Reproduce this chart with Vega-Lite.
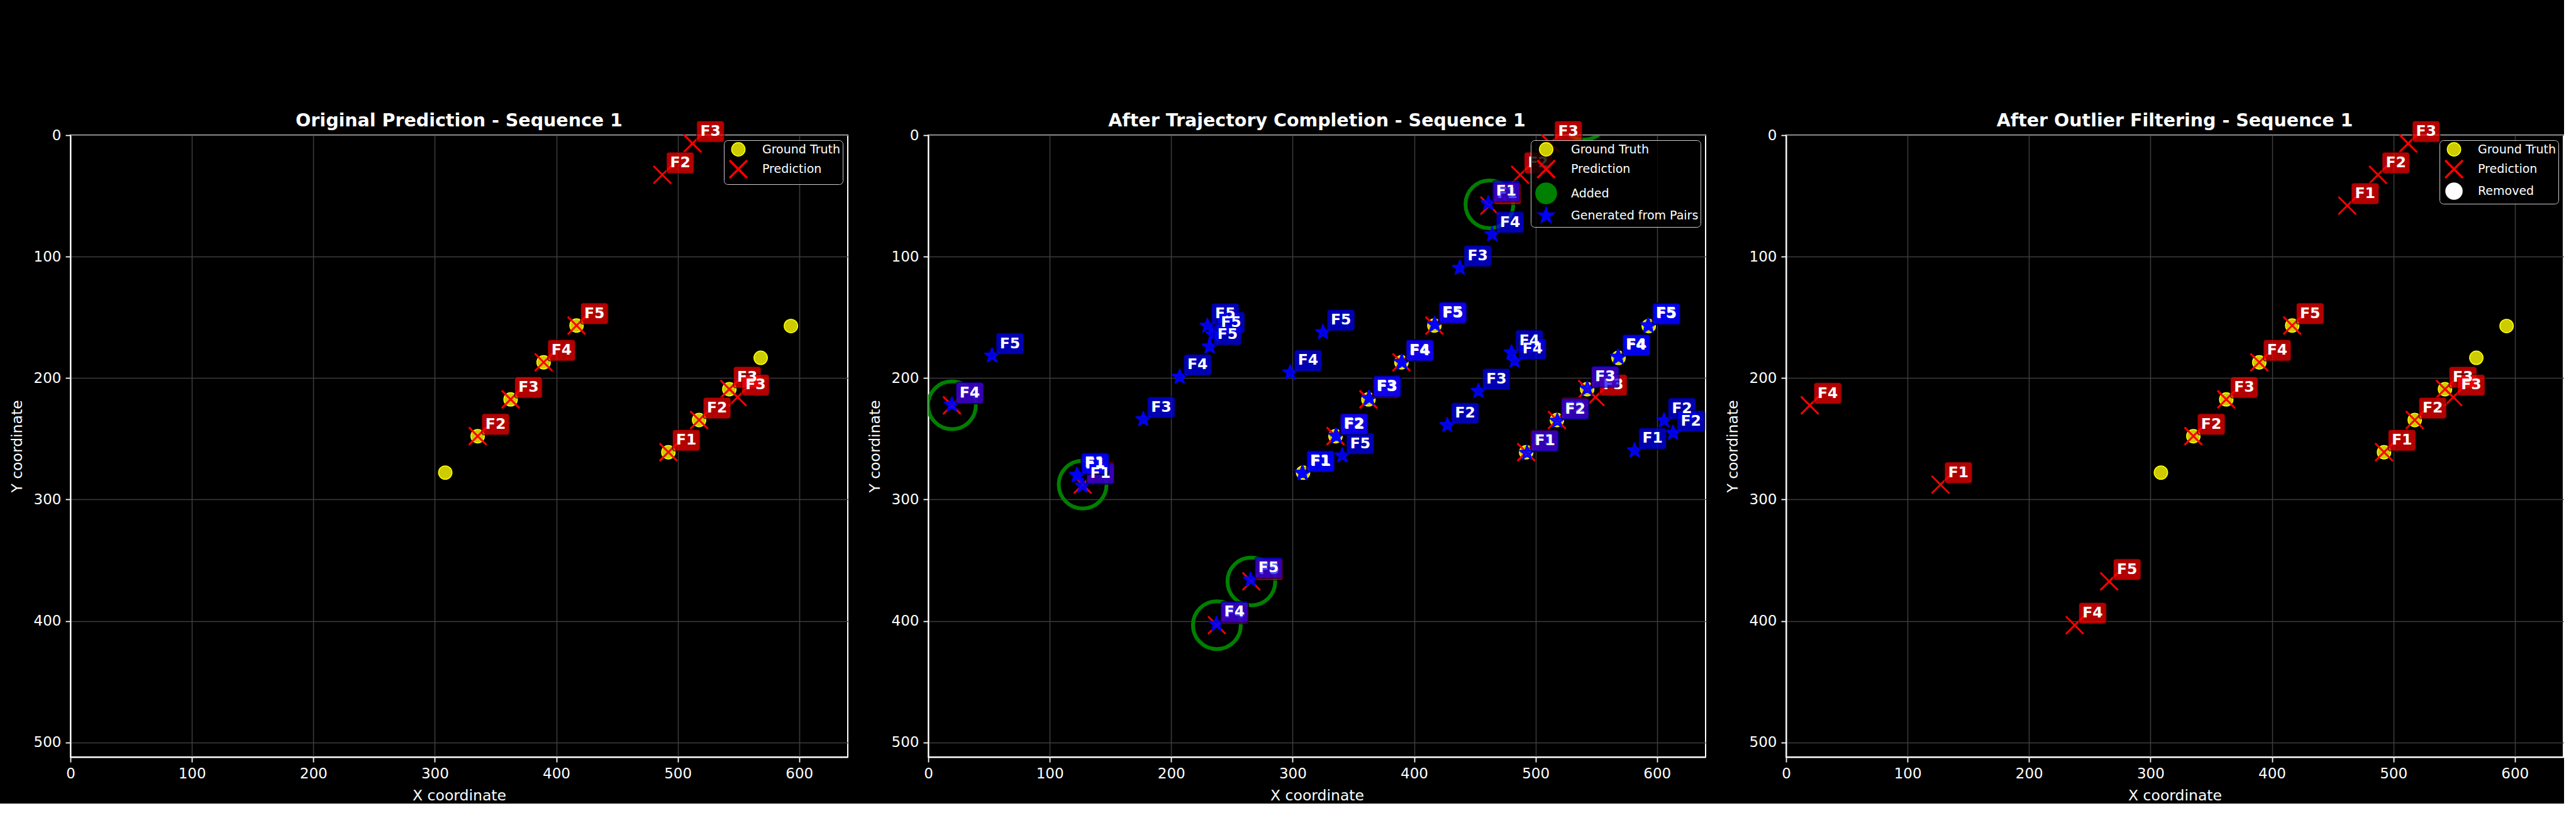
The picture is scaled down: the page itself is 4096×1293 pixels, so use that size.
{
  "$schema": "https://vega.github.io/schema/vega-lite/v6.json",
  "background": "black",
  "padding": {"left": 14, "top": 177, "right": 0, "bottom": 0},
  "bounds": "flush",
  "spacing": 128,
  "resolve": {
    "scale": {"shape": "independent", "fill": "independent", "stroke": "independent", "size": "independent", "strokeWidth": "independent"},
    "legend": {"shape": "independent", "fill": "independent", "stroke": "independent", "size": "independent", "strokeWidth": "independent"}
  },
  "datasets": {
    "gt": [
      {"x": 308.6, "y": 277.8}, {"x": 335.3, "y": 247.8}, {"x": 362.4, "y": 217.5}, {"x": 389.6, "y": 187.0}, {"x": 416.7, "y": 156.7},
      {"x": 492.3, "y": 261.0}, {"x": 517.6, "y": 234.5}, {"x": 542.5, "y": 209.1}, {"x": 568.3, "y": 183.3}, {"x": 593.2, "y": 157.1}
    ],
    "pred_orig": [
      {"x": 512.2, "y": 6.8, "f": "F3"}, {"x": 487.3, "y": 32.6, "f": "F2"},
      {"x": 335.3, "y": 247.8, "f": "F2"}, {"x": 362.4, "y": 217.5, "f": "F3"}, {"x": 389.6, "y": 187.0, "f": "F4"}, {"x": 416.7, "y": 156.7, "f": "F5"},
      {"x": 492.3, "y": 261.0, "f": "F1"}, {"x": 517.6, "y": 234.5, "f": "F2"}, {"x": 542.5, "y": 209.1, "f": "F3"}, {"x": 549.3, "y": 215.6, "f": "F3"}
    ],
    "pred_full": [
      {"x": 512.2, "y": 6.8, "f": "F3"}, {"x": 487.3, "y": 32.6, "f": "F2"},
      {"x": 335.3, "y": 247.8, "f": "F2"}, {"x": 362.4, "y": 217.5, "f": "F3"}, {"x": 389.6, "y": 187.0, "f": "F4"}, {"x": 416.7, "y": 156.7, "f": "F5"},
      {"x": 492.3, "y": 261.0, "f": "F1"}, {"x": 517.6, "y": 234.5, "f": "F2"}, {"x": 542.5, "y": 209.1, "f": "F3"}, {"x": 549.3, "y": 215.6, "f": "F3"},
      {"x": 462.0, "y": 58.0, "f": "F1"}, {"x": 19.5, "y": 222.4, "f": "F4"}, {"x": 127.1, "y": 287.7, "f": "F1"}, {"x": 266.0, "y": 367.4, "f": "F5"}, {"x": 237.6, "y": 403.4, "f": "F4"}
    ],
    "added": [
      {"x": 462.0, "y": 57.0}, {"x": 19.5, "y": 222.4}, {"x": 127.1, "y": 287.7}, {"x": 266.0, "y": 367.4}, {"x": 237.6, "y": 403.4}, {"x": 540.0, "y": -16.0}
    ],
    "gen": [
      {"x": 461.1, "y": 56.1, "f": "F1"}, {"x": 464.3, "y": 81.6, "f": "F4"}, {"x": 437.6, "y": 109.3, "f": "F3"},
      {"x": 52.5, "y": 181.5, "f": "F5"}, {"x": 19.4, "y": 221.9, "f": "F4"},
      {"x": 229.8, "y": 157.0, "f": "F5"}, {"x": 234.5, "y": 164.0, "f": "F5"}, {"x": 231.7, "y": 174.0, "f": "F5"},
      {"x": 207.0, "y": 199.0, "f": "F4"}, {"x": 177.0, "y": 234.0, "f": "F3"},
      {"x": 127.0, "y": 288.6, "f": "F1"}, {"x": 122.3, "y": 279.8, "f": "F1"}, {"x": 122.8, "y": 280.4, "f": "F1"},
      {"x": 325.0, "y": 162.2, "f": "F5"}, {"x": 298.0, "y": 195.4, "f": "F4"},
      {"x": 307.9, "y": 278.0, "f": "F1"}, {"x": 308.4, "y": 278.5, "f": "F1"},
      {"x": 340.9, "y": 263.8, "f": "F5"},
      {"x": 335.6, "y": 247.4, "f": "F2"}, {"x": 336.1, "y": 247.9, "f": "F2"},
      {"x": 362.7, "y": 216.3, "f": "F3"}, {"x": 363.2, "y": 216.8, "f": "F3"},
      {"x": 389.7, "y": 186.7, "f": "F4"}, {"x": 390.2, "y": 187.2, "f": "F4"},
      {"x": 416.8, "y": 155.6, "f": "F5"}, {"x": 417.3, "y": 156.1, "f": "F5"},
      {"x": 453.0, "y": 210.7, "f": "F3"}, {"x": 427.3, "y": 238.8, "f": "F2"},
      {"x": 480.2, "y": 179.0, "f": "F4"}, {"x": 482.8, "y": 185.8, "f": "F4"},
      {"x": 493.0, "y": 261.6, "f": "F1"}, {"x": 517.9, "y": 235.3, "f": "F2"}, {"x": 542.6, "y": 208.6, "f": "F3"},
      {"x": 567.9, "y": 182.4, "f": "F4"}, {"x": 568.4, "y": 182.9, "f": "F4"},
      {"x": 592.6, "y": 156.6, "f": "F5"}, {"x": 593.1, "y": 157.1, "f": "F5"},
      {"x": 581.6, "y": 259.6, "f": "F1"}, {"x": 605.8, "y": 234.9, "f": "F2"}, {"x": 613.2, "y": 245.2, "f": "F2"},
      {"x": 265.4, "y": 366.0, "f": "F5"}, {"x": 237.3, "y": 402.5, "f": "F4"}
    ]
  },
  "config": {
    "font": "DejaVu Sans",
    "view": {"stroke": "#ffffff", "strokeWidth": 2},
    "axis": {
      "domain": true, "domainColor": "#ffffff", "domainWidth": 2,
      "ticks": true, "tickColor": "#ffffff", "tickSize": 8, "tickWidth": 1.8,
      "labelColor": "#ffffff", "labelFont": "DejaVu Sans", "labelFontSize": 23, "labelPadding": 7, "labelFlush": false,
      "titleColor": "#ffffff", "titleFont": "DejaVu Sans", "titleFontSize": 23.5, "titleFontWeight": "normal",
      "grid": true, "gridColor": "#3d3d3d", "gridWidth": 1.5
    },
    "axisX": {"titlePadding": 11},
    "axisY": {"titlePadding": 14},
    "legend": {
      "orient": "top-right", "offset": 8, "padding": 3, "fillColor": "rgba(0,0,0,0.8)", "strokeColor": "#cccccc", "cornerRadius": 6,
      "labelColor": "#ffffff", "labelFont": "DejaVu Sans", "labelFontSize": 19, "labelLimit": 400, "symbolOffset": 4, "labelOffset": 22, "rowPadding": -4, "symbolOpacity": 1
    },
    "title": {"color": "#ffffff", "font": "DejaVu Sans", "fontSize": 28.5, "fontWeight": "bold", "offset": -17.4, "baseline": "alphabetic", "anchor": "middle"}
  },
  "hconcat": [
    {
      "width": 1236, "height": 989,
      "title": "Original Prediction - Sequence 1",
      "encoding": {
        "x": {"field": "x", "type": "quantitative", "scale": {"domain": [0, 640], "nice": false, "zero": false}, "axis": {"values": [0, 100, 200, 300, 400, 500, 600], "title": "X coordinate"}},
        "y": {"field": "y", "type": "quantitative", "scale": {"domain": [0, 512], "reverse": true, "nice": false, "zero": false}, "axis": {"values": [0, 100, 200, 300, 400, 500], "title": "Y coordinate"}}
      },
      "layer": [
        {
          "data": {"name": "gt"},
          "mark": {"type": "point", "filled": true, "opacity": 1, "fillOpacity": 1},
          "encoding": {
            "fill": {"datum": "Ground Truth", "type": "nominal", "scale": {"domain": ["Ground Truth", "Prediction"], "range": ["#cccc00", "transparent"]}, "legend": {"title": null}},
            "stroke": {"datum": "Ground Truth", "type": "nominal", "scale": {"domain": ["Ground Truth", "Prediction"], "range": ["#ffff00", "#ff0000"]}, "legend": {"title": null}},
            "shape": {"datum": "Ground Truth", "type": "nominal", "scale": {"domain": ["Ground Truth", "Prediction"], "range": ["circle", "M-1,-1L1,1M-1,1L1,-1"]}, "legend": {"title": null}},
            "size": {"datum": "Ground Truth", "type": "ordinal", "scale": {"type": "ordinal", "domain": ["Ground Truth", "Prediction"], "range": [460, 784]}, "legend": {"title": null}},
            "strokeWidth": {"datum": "Ground Truth", "type": "ordinal", "scale": {"type": "ordinal", "domain": ["Ground Truth", "Prediction"], "range": [1.5, 3.5]}, "legend": {"title": null}}
          }
        },
        {
          "data": {"name": "pred_orig"},
          "mark": {"type": "point", "shape": "M-1,-1L1,1M-1,1L1,-1", "filled": false, "stroke": "#ff0000", "strokeWidth": 3, "size": 784, "opacity": 1}
        },
        {
          "data": {"name": "pred_orig"},
          "mark": {"type": "point", "shape": "M0.22,-0.72H0.92Q1.01,-0.72 1.01,-0.63V-0.13Q1.01,-0.04 0.92,-0.04H0.22Q0.13,-0.04 0.13,-0.13V-0.63Q0.13,-0.72 0.22,-0.72Z", "size": 10000, "filled": true, "fill": "#ff0000", "fillOpacity": 0.7, "stroke": "#000000", "strokeOpacity": 0.6, "strokeWidth": 1.5, "opacity": 1}
        },
        {
          "data": {"name": "pred_orig"},
          "mark": {"type": "text", "dx": 28.5, "dy": -19, "align": "center", "baseline": "middle", "font": "DejaVu Sans", "fontWeight": "bold", "fontSize": 23.5, "color": "#ffffff"},
          "encoding": {"text": {"field": "f"}}
        }
      ]
    },
    {
      "width": 1236, "height": 989,
      "title": "After Trajectory Completion - Sequence 1",
      "encoding": {
        "x": {"field": "x", "type": "quantitative", "scale": {"domain": [0, 640], "nice": false, "zero": false}, "axis": {"values": [0, 100, 200, 300, 400, 500, 600], "title": "X coordinate"}},
        "y": {"field": "y", "type": "quantitative", "scale": {"domain": [0, 512], "reverse": true, "nice": false, "zero": false}, "axis": {"values": [0, 100, 200, 300, 400, 500], "title": "Y coordinate"}}
      },
      "layer": [
        {
          "data": {"name": "gt"},
          "mark": {"type": "point", "filled": true, "opacity": 1, "fillOpacity": 1},
          "encoding": {
            "fill": {"datum": "Ground Truth", "type": "nominal", "scale": {"domain": ["Ground Truth", "Prediction", "Added", "Generated from Pairs"], "range": ["#cccc00", "transparent", "#008000", "#0000ff"]}, "legend": {"title": null}},
            "stroke": {"datum": "Ground Truth", "type": "nominal", "scale": {"domain": ["Ground Truth", "Prediction", "Added", "Generated from Pairs"], "range": ["#ffff00", "#ff0000", "#008000", "#0000ff"]}, "legend": {"title": null}},
            "shape": {"datum": "Ground Truth", "type": "nominal", "scale": {"domain": ["Ground Truth", "Prediction", "Added", "Generated from Pairs"], "range": ["circle", "M-1,-1L1,1M-1,1L1,-1", "circle", "M0,-1L0.225,-0.309L0.951,-0.309L0.363,0.118L0.588,0.809L0,0.382L-0.588,0.809L-0.363,0.118L-0.951,-0.309L-0.225,-0.309Z"]}, "legend": {"title": null}},
            "size": {"datum": "Ground Truth", "type": "ordinal", "scale": {"type": "ordinal", "domain": ["Ground Truth", "Prediction", "Added", "Generated from Pairs"], "range": [460, 784, 1100, 800]}, "legend": {"title": null}},
            "strokeWidth": {"datum": "Ground Truth", "type": "ordinal", "scale": {"type": "ordinal", "domain": ["Ground Truth", "Prediction", "Added", "Generated from Pairs"], "range": [1.5, 3.5, 1.5, 1.5]}, "legend": {"title": null}}
          }
        },
        {
          "data": {"name": "pred_full"},
          "mark": {"type": "point", "shape": "M-1,-1L1,1M-1,1L1,-1", "filled": false, "stroke": "#ff0000", "strokeWidth": 3, "size": 784, "opacity": 1}
        },
        {
          "data": {"name": "added"},
          "mark": {"type": "point", "shape": "circle", "filled": false, "stroke": "#008000", "strokeWidth": 6, "size": 5776, "opacity": 1, "clip": true}
        },
        {
          "data": {"name": "gen"},
          "mark": {"type": "point", "shape": "M0,-1L0.225,-0.309L0.951,-0.309L0.363,0.118L0.588,0.809L0,0.382L-0.588,0.809L-0.363,0.118L-0.951,-0.309L-0.225,-0.309Z", "filled": true, "fill": "#0000ff", "fillOpacity": 0.85, "stroke": "#0000ff", "strokeWidth": 2.5, "strokeJoin": "round", "size": 560, "opacity": 1}
        },
        {
          "data": {"name": "pred_full"},
          "mark": {"type": "point", "shape": "M0.22,-0.72H0.92Q1.01,-0.72 1.01,-0.63V-0.13Q1.01,-0.04 0.92,-0.04H0.22Q0.13,-0.04 0.13,-0.13V-0.63Q0.13,-0.72 0.22,-0.72Z", "size": 10000, "filled": true, "fill": "#ff0000", "fillOpacity": 0.7, "stroke": "#000000", "strokeOpacity": 0.6, "strokeWidth": 1.5, "opacity": 1}
        },
        {
          "data": {"name": "pred_full"},
          "mark": {"type": "text", "dx": 28.5, "dy": -19, "align": "center", "baseline": "middle", "font": "DejaVu Sans", "fontWeight": "bold", "fontSize": 23.5, "color": "#ffffff"},
          "encoding": {"text": {"field": "f"}}
        },
        {
          "data": {"name": "gen"},
          "mark": {"type": "point", "shape": "M0.22,-0.72H0.92Q1.01,-0.72 1.01,-0.63V-0.13Q1.01,-0.04 0.92,-0.04H0.22Q0.13,-0.04 0.13,-0.13V-0.63Q0.13,-0.72 0.22,-0.72Z", "size": 10000, "filled": true, "fill": "#0000ff", "fillOpacity": 0.7, "stroke": "#000000", "strokeOpacity": 0.6, "strokeWidth": 1.5, "opacity": 1}
        },
        {
          "data": {"name": "gen"},
          "mark": {"type": "text", "dx": 28.5, "dy": -19, "align": "center", "baseline": "middle", "font": "DejaVu Sans", "fontWeight": "bold", "fontSize": 23.5, "color": "#ffffff"},
          "encoding": {"text": {"field": "f"}}
        }
      ]
    },
    {
      "width": 1236, "height": 989,
      "title": "After Outlier Filtering - Sequence 1",
      "encoding": {
        "x": {"field": "x", "type": "quantitative", "scale": {"domain": [0, 640], "nice": false, "zero": false}, "axis": {"values": [0, 100, 200, 300, 400, 500, 600], "title": "X coordinate"}},
        "y": {"field": "y", "type": "quantitative", "scale": {"domain": [0, 512], "reverse": true, "nice": false, "zero": false}, "axis": {"values": [0, 100, 200, 300, 400, 500], "title": "Y coordinate"}}
      },
      "layer": [
        {
          "data": {"name": "gt"},
          "mark": {"type": "point", "filled": true, "opacity": 1, "fillOpacity": 1},
          "encoding": {
            "fill": {"datum": "Ground Truth", "type": "nominal", "scale": {"domain": ["Ground Truth", "Prediction", "Removed"], "range": ["#cccc00", "transparent", "#ffffff"]}, "legend": {"title": null}},
            "stroke": {"datum": "Ground Truth", "type": "nominal", "scale": {"domain": ["Ground Truth", "Prediction", "Removed"], "range": ["#ffff00", "#ff0000", "#ffffff"]}, "legend": {"title": null}},
            "shape": {"datum": "Ground Truth", "type": "nominal", "scale": {"domain": ["Ground Truth", "Prediction", "Removed"], "range": ["circle", "M-1,-1L1,1M-1,1L1,-1", "circle"]}, "legend": {"title": null}},
            "size": {"datum": "Ground Truth", "type": "ordinal", "scale": {"type": "ordinal", "domain": ["Ground Truth", "Prediction", "Removed"], "range": [460, 784, 680]}, "legend": {"title": null}},
            "strokeWidth": {"datum": "Ground Truth", "type": "ordinal", "scale": {"type": "ordinal", "domain": ["Ground Truth", "Prediction", "Removed"], "range": [1.5, 3.5, 1.5]}, "legend": {"title": null}}
          }
        },
        {
          "data": {"name": "pred_full"},
          "mark": {"type": "point", "shape": "M-1,-1L1,1M-1,1L1,-1", "filled": false, "stroke": "#ff0000", "strokeWidth": 3, "size": 784, "opacity": 1}
        },
        {
          "data": {"name": "pred_full"},
          "mark": {"type": "point", "shape": "M0.22,-0.72H0.92Q1.01,-0.72 1.01,-0.63V-0.13Q1.01,-0.04 0.92,-0.04H0.22Q0.13,-0.04 0.13,-0.13V-0.63Q0.13,-0.72 0.22,-0.72Z", "size": 10000, "filled": true, "fill": "#ff0000", "fillOpacity": 0.7, "stroke": "#000000", "strokeOpacity": 0.6, "strokeWidth": 1.5, "opacity": 1}
        },
        {
          "data": {"name": "pred_full"},
          "mark": {"type": "text", "dx": 28.5, "dy": -19, "align": "center", "baseline": "middle", "font": "DejaVu Sans", "fontWeight": "bold", "fontSize": 23.5, "color": "#ffffff"},
          "encoding": {"text": {"field": "f"}}
        }
      ]
    }
  ]
}
